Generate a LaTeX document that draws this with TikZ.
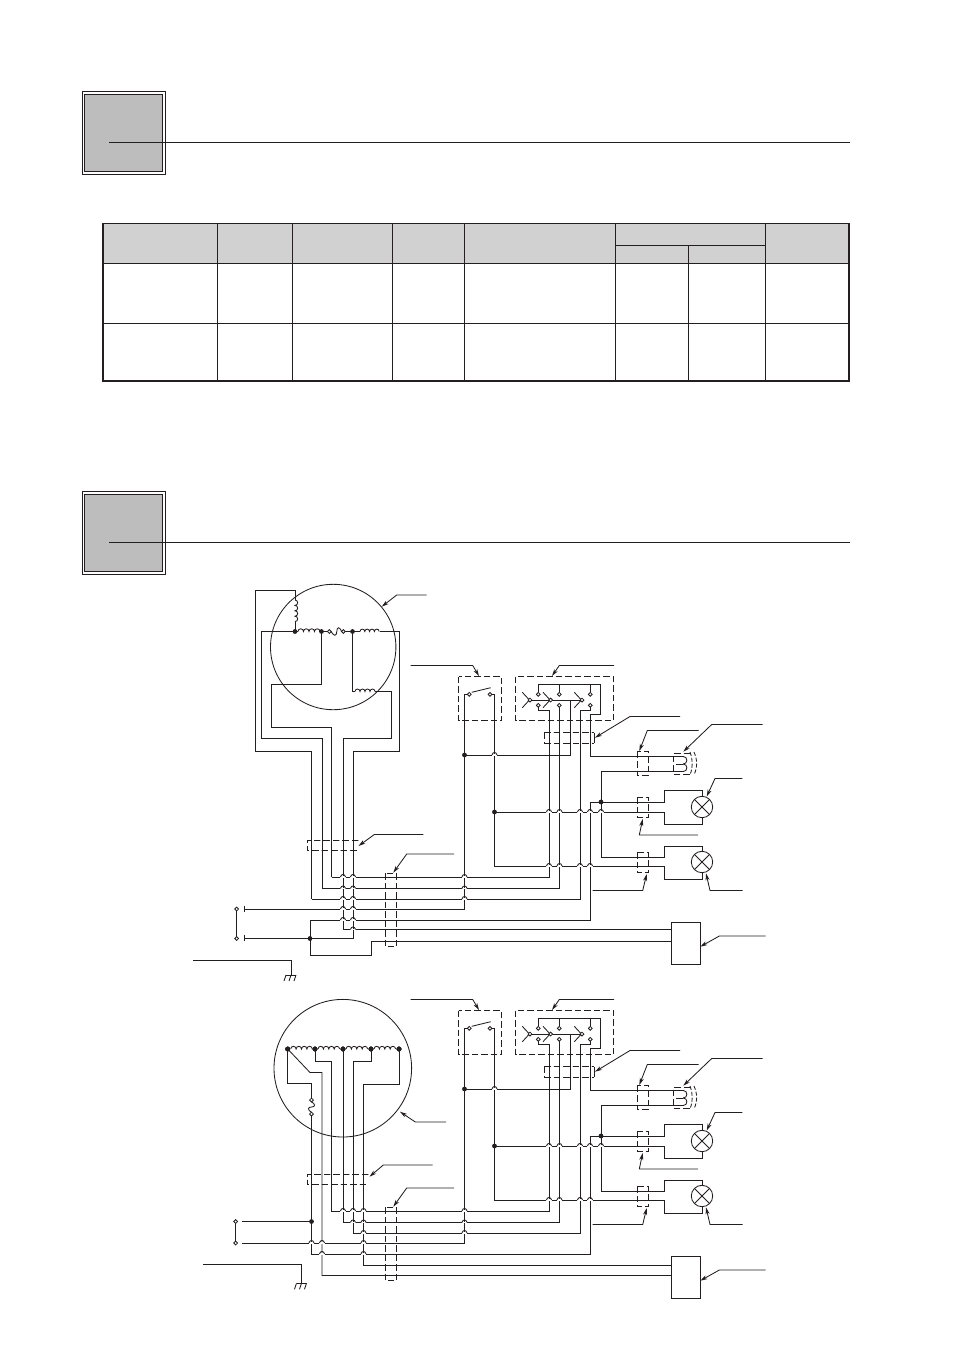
\documentclass[tikz,border=0pt]{standalone}
\usepackage{tikz}
\usetikzlibrary{arrows.meta}
\definecolor{inkblack}{HTML}{231F20}
\tikzset{
  wire/.style={inkblack, line width=0.85pt, line join=miter},
  tagline/.style={inkblack, line width=0.85pt, -{Stealth[length=7pt,width=4pt,inset=2pt]}},
  cablebox/.style={inkblack, line width=0.95pt, dash pattern=on 6.5pt off 3pt},
  rule/.style={inkblack, line width=1pt},
}
% bump of a wire over a crossing one
\newcommand{\wirehop}[2]{%
  \draw[white, line width=1.6pt] (#1-2.6,#2) -- (#1+2.6,#2);
  \draw[wire] (#1-2.6,#2) .. controls (#1-1.6,#2-3.4) and (#1+1.6,#2-3.4) .. (#1+2.6,#2);
}
\newcommand{\joint}[2]{\fill[inkblack] (#1,#2) circle (2.4);}
\newcommand{\lug}[2]{\draw[wire, fill=white] (#1,#2) circle (1.9);}
% coil of four humps, left to right
\newcommand{\coilh}[3]{%
  \draw[wire] (#1,#3) arc (180:360:#2) arc (180:360:#2) arc (180:360:#2) arc (180:360:#2);
}
% one section head
\newcommand{\sectionhead}[1]{%
  \draw[rule] (82.4,#1) rectangle (165.3,#1+82.8);
  \draw[rule, fill=black!26] (84.6,#1+2.6) rectangle (162.8,#1+79.8);
  \draw[rule] (109,#1+50.8) -- (849.5,#1+50.8);
}
\begin{document}
\begin{tikzpicture}[x=1pt, y=-1pt]
\useasboundingbox (0,0) rectangle (954,1350);

\sectionhead{91.5}
\sectionhead{491.5}

% table
\fill[black!18] (103,224) rectangle (849,263.3);
\draw[rule] (102.7,223.7) rectangle (849,380.7);
\draw[inkblack, line width=2pt] (102.7,223.2) -- (102.7,381.2) -- (849,381.2) -- (849,223.2);
\draw[rule] (102.7,263.3) -- (849,263.3);
\draw[rule] (102.7,323.3) -- (849,323.3);
\draw[rule] (615.3,245.3) -- (765.3,245.3);
\draw[rule] (688.3,245.3) -- (688.3,380.7);
\foreach \colx in {217.3,292.3,392.3,464.3,615.3,765.3}
  \draw[rule] (\colx,223.7) -- (\colx,380.7);

% switches, lamps and their wires, the same in both diagrams
\foreach \dy in {0,334} {
\begin{scope}[shift={(0,\dy)}]
  \draw[cablebox] (458.7,676.7) rectangle (501.7,720.7);
  \draw[cablebox] (515.7,676.7) rectangle (613.7,720.7);
  \draw[tagline] (410.7,665.5) -- (472.7,665.5) -- (479,676);
  \draw[tagline] (614,665.5) -- (559.3,665.5) -- (552,676);
  % main switch
  \draw[wire] (471.7,692.3) -- (490.7,687.7);
  \draw[wire] (469.3,694.3) -- (464.5,694.3) -- (464.5,909) -- (420,909);
  \draw[wire] (490,694.3) -- (494.5,694.3) -- (494.5,866) -- (664.5,866);
  \lug{469.3}{694.3}
  \lug{490}{694.3}
  % selector switch
  \draw[wire] (538.5,692.3) -- (538.5,684) -- (600.5,684) -- (600.5,714) -- (590.5,714) -- (590.5,756.5) -- (673.3,756.5);
  \draw[wire] (559.3,684) -- (559.3,692.3);
  \draw[wire] (590.3,684) -- (590.3,692.3);
  \draw[wire] (530,700) -- (582,700);
  \foreach \polex in {530,550.7,582} {
    \draw[wire] (\polex-7.7,692.3) -- (\polex-1.5,699);
    \draw[wire] (\polex-7.7,707.7) -- (\polex-1.5,701);
    \draw[wire, fill=white] (\polex,700) circle (1.9);
  }
  \draw[wire] (538.5,707) -- (538.5,710.5) -- (549,710.5) -- (549,877) -- (420,877);
  \draw[wire] (559.5,707) -- (559.5,888.5) -- (420,888.5);
  \draw[wire] (590.3,707) -- (590.3,710.5) -- (580,710.5) -- (580,899) -- (420,899);
  \foreach \lugx in {538.3,559.3,590.3} {
    \lug{\lugx}{694.3}
    \lug{\lugx}{705.3}
  }
  \draw[wire] (464.5,755) -- (570,755) -- (570,700);
  \draw[wire] (590,802) -- (590,920) -- (420,920);
  \draw[wire] (494.5,812) -- (664.5,812) -- (664.5,824) -- (702.3,824) -- (702.3,818);
  \draw[wire] (590,802) -- (664.5,802) -- (664.5,790.5) -- (702.3,790.5) -- (702.3,796);
  \draw[wire] (601,802) -- (601,771.5) -- (673.3,771.5);
  \draw[wire] (601,802) -- (601,857) -- (664.5,857) -- (664.5,846) -- (702.3,846) -- (702.3,851);
  \draw[wire] (664.5,866) -- (664.5,879) -- (702.3,879) -- (702.3,873);
  \joint{464.5}{755}
  \joint{494.5}{812}
  \joint{601}{802}
  \foreach \hopx/\hopy in {494.5/755,549/812,559.5/812,580/812,590/812,601/812,
      549/866,559.5/866,580/866,590/866,464.5/877,464.5/888.5,464.5/899}
    \wirehop{\hopx}{\hopy}
  % plug dashes
  \draw[cablebox] (544.3,732.7) -- (594.3,732.7);
  \draw[cablebox] (544.3,743.3) -- (594.3,743.3);
  \draw[cablebox] (544.3,732.7) -- (544.3,743.3);
  \draw[wire] (594.5,732.7) -- (594.5,743.3);
  \draw[tagline] (680,716.5) -- (630,716.5) -- (595,737.7);
  \draw[cablebox] (637.3,751.7) rectangle (648.7,775.3);
  \draw[tagline] (698.7,730.5) -- (647.3,730.5) -- (639.3,751);
  \draw[cablebox] (637.3,797.3) rectangle (648.7,817.3);
  \draw[tagline] (698,835) -- (639.3,835) -- (642.7,819);
  \draw[cablebox] (637.3,852.3) rectangle (648.7,872.7);
  \draw[tagline] (592.7,890.5) -- (642.7,890.5) -- (646.7,874);
  % horn
  \draw[cablebox] (690,753.3) -- (673.3,753.3) -- (673.3,774) -- (690,774);
  \draw[wire] (673.3,756.5) -- (683.3,756.5) .. controls (688,756.5) and (688,764) .. (683.3,764);
  \draw[wire] (683.3,764) .. controls (688,764) and (688,771.5) .. (683.3,771.5) -- (673.3,771.5);
  \draw[wire] (676,764) -- (683.3,764);
  \draw[wire, dash pattern=on 4pt off 2pt] (690,752) .. controls (693,760) and (693,767) .. (690,775);
  \draw[wire, dash pattern=on 4pt off 2pt] (694,752) .. controls (697.5,760) and (697.5,767) .. (694,775);
  \draw[tagline] (762.7,724.5) -- (711.7,724.5) -- (683.3,751.7);
  % lamps
  \foreach \lampy in {807,862} {
    \draw[wire] (702,\lampy) circle (10.7);
    \draw[wire] (694.4,\lampy-7.6) -- (709.6,\lampy+7.6);
    \draw[wire] (694.4,\lampy+7.6) -- (709.6,\lampy-7.6);
  }
  \draw[tagline] (742.3,778.5) -- (715,778.5) -- (706.7,796.5);
  \draw[tagline] (742.7,890.5) -- (710,890.5) -- (706,873.3);
  % control box
  \draw[wire] (671.7,922) rectangle (700,964.3);
  \draw[tagline] (765.7,936) -- (719.3,936) -- (700.3,946.7);
  % common dashes
  \draw[cablebox] (385.3,873.3) rectangle (396.7,946.7);
  \draw[tagline] (454,854) -- (406.7,854) -- (393.3,872.7);
\end{scope}
}

% upper motor
\draw[wire] (333.2,647) circle (62.7);
\draw[tagline] (426.7,595) -- (396.7,595) -- (381.7,606.7);
\draw[wire] (311.5,899) -- (311.5,751) -- (255,751) -- (255,590.5) -- (295,590.5) -- (295,600);
\draw[wire] (295,600) arc (270:450:2.7) arc (270:450:2.7) arc (270:450:2.7) arc (270:450:2.7);
\draw[wire] (295,621.6) -- (295,631.5) -- (261.5,631.5) -- (261.5,738.5) -- (322,738.5) -- (322,888.5) -- (420,888.5);
\draw[wire] (311.5,899) -- (420,899);
\draw[wire] (331.5,877) -- (331.5,727.5) -- (271,727.5) -- (271,684.5) -- (321.5,684.5) -- (321.5,631.5);
\draw[wire] (331.5,877) -- (420,877);
\draw[wire] (343,929.5) -- (343,738.5) -- (391,738.5) -- (391,691.5) -- (375,691.5);
\draw[wire] (355,691.5) -- (352.5,691.5) -- (352.5,631.5);
\draw[wire] (353,938.5) -- (353,751) -- (399,751) -- (399,631.5) -- (380,631.5);
\draw[wire] (295,631.5) -- (298,631.5);
\draw[wire] (320,631.5) -- (327.5,631.5);
\draw[wire] (345.2,631.5) -- (360,631.5);
\coilh{298}{2.75}{631.5}
\coilh{360}{2.4}{631.5}
\coilh{355}{2.5}{691.5}
\draw[wire] (331,631.5) .. controls (334,636.5) and (336.5,636.5) .. (336.8,631.5) .. controls (337,626.5) and (339.5,626.5) .. (341.7,631.5);
\lug{329.3}{631.5}
\lug{343.4}{631.5}
\joint{295}{631.5}
\joint{321.5}{631.5}
\joint{352.5}{631.5}
% upper feed
\draw[wire] (244.3,909) -- (420,909);
\draw[wire] (236.7,909) -- (236.7,938.5);
\lug{236.7}{909}
\lug{236.7}{938.5}
\draw[wire] (244.3,905.7) -- (244.3,912.3);
\draw[wire] (244.3,934.7) -- (244.3,941.3);
\draw[wire] (244.3,938.5) -- (353,938.5);
\draw[wire] (420,920) -- (310,920) -- (310,955) -- (371.5,955) -- (371.5,941.5) -- (671.7,941.5);
\draw[wire] (343,929.5) -- (671.7,929.5);
\joint{310}{938.5}
\foreach \hopx/\hopy in {343/877,353/877,343/888.5,353/888.5,343/899,353/899,
    343/909,353/909,343/920,353/920,353/929.5}
  \wirehop{\hopx}{\hopy}
\draw[cablebox] (358.3,840) -- (307.3,840) -- (307.3,850.7) -- (358.3,850.7);
\draw[tagline] (423.3,834.5) -- (374.3,834.5) -- (358.5,846);
% upper earth
\draw[wire] (193.3,960.5) -- (291,960.5) -- (291,975);
\draw[wire] (286,975) -- (296,975);
\foreach \gx in {286,291,296}
  \draw[wire] (\gx,975) -- (\gx-2,981);

% lower motor
\draw[wire] (342.8,1068.2) circle (68.8);
\draw[tagline] (446,1122) -- (415.3,1122) -- (400,1111.7);
\foreach \coilx in {287.7,315,343,371}
  \coilh{\coilx+3}{2.7}{1049}
\foreach \dotx in {287.7,315,343,371,399}
  \joint{\dotx}{1049}
\draw[wire] (399,1049) -- (399,1084) -- (363.5,1084) -- (363.5,1265) -- (671.7,1265);
\draw[wire] (371,1049) -- (371,1061.5) -- (353,1061.5) -- (353,1233) -- (420,1233);
\draw[wire] (343,1049) -- (343,1222.5) -- (420,1222.5);
\draw[wire] (315,1049) -- (315,1061.5) -- (331.5,1061.5) -- (331.5,1211) -- (420,1211);
\draw[wire] (287.7,1049) -- (310,1072.5) -- (322,1072.5) -- (322,1275.5) -- (671.7,1275.5);
\draw[wire] (287.7,1049) -- (287.7,1083) -- (311.5,1083) -- (311.5,1098.3);
\draw[wire] (311.5,1115.5) -- (311.5,1254) -- (420,1254);
\draw[wire] (311.5,1101.7) .. controls (315.5,1104) and (315.5,1107) .. (311.5,1107) .. controls (307.5,1107) and (307.5,1110) .. (311.5,1112.3);
\lug{311.5}{1100}
\lug{311.5}{1114}
% lower feed
\draw[wire] (242.3,1221.5) -- (311.5,1221.5);
\draw[wire] (242.3,1243) -- (420,1243);
\draw[wire] (235.7,1221.5) -- (235.7,1243);
\lug{235.7}{1221.5}
\lug{235.7}{1243}
\joint{311.5}{1221.5}
\foreach \hopx/\hopy in {343/1211,353/1211,363.5/1211,353/1222.5,363.5/1222.5,363.5/1233,
    311.5/1243,322/1243,363.5/1243,322/1254,363.5/1254}
  \wirehop{\hopx}{\hopy}
\draw[cablebox] (368.3,1174.3) -- (307.3,1174.3) -- (307.3,1184.3) -- (368.3,1184.3);
\draw[tagline] (432.7,1165) -- (383.3,1165) -- (369.5,1176.7);
% lower earth
\draw[wire] (203.3,1264.5) -- (301.5,1264.5) -- (301.5,1283.3);
\draw[wire] (296.5,1283.3) -- (306.5,1283.3);
\foreach \gx in {296.5,301.5,306.5}
  \draw[wire] (\gx,1283.3) -- (\gx-2,1289.3);
\end{tikzpicture}
\end{document}
